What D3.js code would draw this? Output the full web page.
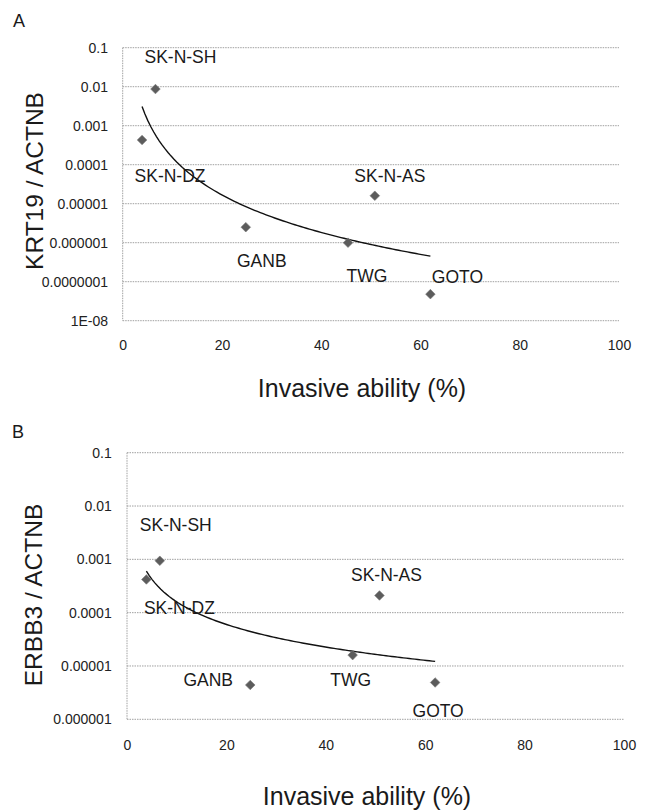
<!DOCTYPE html>
<html>
<head>
<meta charset="utf-8">
<script src="https://cdn.jsdelivr.net/npm/d3@7"></script>
<style>
  body { margin: 0; background: #fff; }
  svg { font-family: "Liberation Sans", Arial, sans-serif; }
</style>
</head>
<body>
<div class="chart"></div>
<script>
// cell lines, shared by both panels
var cellLines = ["SK-N-SH", "SK-N-DZ", "GANB", "SK-N-AS", "TWG", "GOTO"];
var invasion = [6.6, 3.9, 24.8, 50.8, 45.4, 62.0];
var krt19 = [0.0087, 0.00043, 0.0000025, 0.000016, 0.000001, 0.000000048];
var erbb3 = [0.00094, 0.00042, 0.0000044, 0.00021, 0.000016, 0.0000049];

var xTicks = [0, 20, 40, 60, 80, 100];
var yTicksA = ["1E-08", "0.0000001", "0.000001", "0.00001", "0.0001", "0.001", "0.01", "0.1"];
var yTicksB = ["0.000001", "0.00001", "0.0001", "0.001", "0.01", "0.1"];

// label offsets from each marker (px)
var labelOffA = [[25, -26], [28, 42], [16, 40], [15, -14], [19, 39], [27, -11]];
var labelOffB = [[16, -30], [33, 35], [-42, 1], [7, -14], [-2, 31], [3, 35]];

var width = 648,
    height = 811;

var svg = d3.select(".chart").append("svg")
    .attr("width", width)
    .attr("height", height);

svg.append("rect")
    .attr("width", width)
    .attr("height", height)
    .attr("fill", "#fff");

// power trend line (least squares on log-log)
function powerFit(xs, ys) {
  var lx = xs.map(Math.log10), ly = ys.map(Math.log10);
  var mx = d3.mean(lx), my = d3.mean(ly);
  var sxy = d3.sum(lx, function(d, i){ return (d - mx) * (ly[i] - my); });
  var sxx = d3.sum(lx, function(d){ return (d - mx) * (d - mx); });
  var b = sxy / sxx;
  var a = my - b * mx;
  return function(x){ return Math.pow(10, a + b * Math.log10(x)); };
}

function panel(opt) {
  var x = d3.scaleLinear().domain([0, 100]).range([opt.left, opt.right]);
  var y = d3.scaleLog().domain([+opt.yTicks[0], +opt.yTicks[opt.yTicks.length - 1]])
      .range([opt.bottom, opt.top]);

  var g = svg.append("g");

  // dotted gridlines
  g.append("g")
      .selectAll("line")
      .data(opt.yTicks)
      .enter()
      .append("line")
      .attr("x1", opt.left)
      .attr("x2", opt.right)
      .attr("y1", function(d){ return y(+d); })
      .attr("y2", function(d){ return y(+d); })
      .attr("stroke", "#a0a0a0")
      .attr("stroke-width", 1)
      .attr("stroke-dasharray", "1.5,1");

  g.append("line")
      .attr("x1", opt.left).attr("x2", opt.left)
      .attr("y1", opt.top).attr("y2", opt.bottom)
      .attr("stroke", "#a0a0a0")
      .attr("stroke-width", 1)
      .attr("stroke-dasharray", "1.5,1");

  var yAxis = g.append("g")
      .attr("transform", "translate(" + opt.left + ",0)")
      .call(d3.axisLeft(y)
        .tickValues(opt.yTicks.map(Number))
        .tickFormat(function(d, i){ return opt.yTicks[i]; })
        .tickSize(0)
        .tickPadding(opt.yPad));

  var xAxis = g.append("g")
      .attr("transform", "translate(0," + opt.bottom + ")")
      .call(d3.axisBottom(x)
        .tickValues(xTicks)
        .tickSize(0)
        .tickPadding(opt.xPad));

  [yAxis, xAxis].forEach(function(ax){
    ax.select(".domain").remove();
    ax.selectAll("text")
        .attr("font-size", "14px")
        .attr("font-family", "Liberation Sans, Arial, sans-serif")
        .attr("fill", "#222");
  });

  // trend line
  var fit = powerFit(invasion, opt.values);
  var xs = d3.range(0, 101).map(function(i){
    return d3.min(invasion) + (d3.max(invasion) - d3.min(invasion)) * i / 100;
  });
  g.append("path")
      .datum(xs)
      .attr("fill", "none")
      .attr("stroke", "#111")
      .attr("stroke-width", 1.4)
      .attr("d", d3.line()
        .x(function(d){ return x(d); })
        .y(function(d){ return y(fit(d)); }));

  // diamond markers
  g.append("g")
      .selectAll("path")
      .data(opt.values)
      .enter()
      .append("path")
      .attr("d", d3.symbol().type(d3.symbolSquare).size(46))
      .attr("transform", function(d, i){
        return "translate(" + x(invasion[i]) + "," + y(d) + ") rotate(45)";
      })
      .attr("fill", "#5c5c5c")
      .attr("stroke", "#7a7a7a")
      .attr("stroke-width", 0.6);

  g.append("g")
      .selectAll("text")
      .data(opt.values)
      .enter()
      .append("text")
      .attr("x", function(d, i){ return x(invasion[i]) + opt.offsets[i][0]; })
      .attr("y", function(d, i){ return y(d) + opt.offsets[i][1]; })
      .attr("text-anchor", "middle")
      .attr("font-size", "17.5px")
      .attr("fill", "#1a1a1a")
      .text(function(d, i){ return cellLines[i]; });

  // axis titles
  g.append("text")
      .attr("transform", "translate(" + opt.yTitlePos[0] + "," + opt.yTitlePos[1] + ") rotate(-90)")
      .attr("text-anchor", "middle")
      .attr("font-size", "24.5px")
      .attr("fill", "#1a1a1a")
      .text(opt.yTitle);

  g.append("text")
      .attr("x", opt.xTitlePos[0])
      .attr("y", opt.xTitlePos[1])
      .attr("text-anchor", "middle")
      .attr("font-size", "25px")
      .attr("fill", "#1a1a1a")
      .text("Invasive ability (%)");

  g.append("text")
      .attr("x", opt.letterPos[0])
      .attr("y", opt.letterPos[1])
      .attr("font-size", "18px")
      .attr("fill", "#1a1a1a")
      .text(opt.letter);
}

panel({
  letter: "A", letterPos: [13, 27],
  left: 122.7, right: 619, top: 47.7, bottom: 320.7,
  yTicks: yTicksA, values: krt19, offsets: labelOffA,
  yPad: 14.7, xPad: 19,
  yTitle: "KRT19 / ACTNB", yTitlePos: [43, 181],
  xTitlePos: [362, 397]
});

panel({
  letter: "B", letterPos: [12, 438],
  left: 127, right: 624, top: 452.7, bottom: 719.3,
  yTicks: yTicksB, values: erbb3, offsets: labelOffB,
  yPad: 15.3, xPad: 20.5,
  yTitle: "ERBB3 / ACTNB", yTitlePos: [41.7, 595],
  xTitlePos: [367, 805]
});
</script>
</body>
</html>
